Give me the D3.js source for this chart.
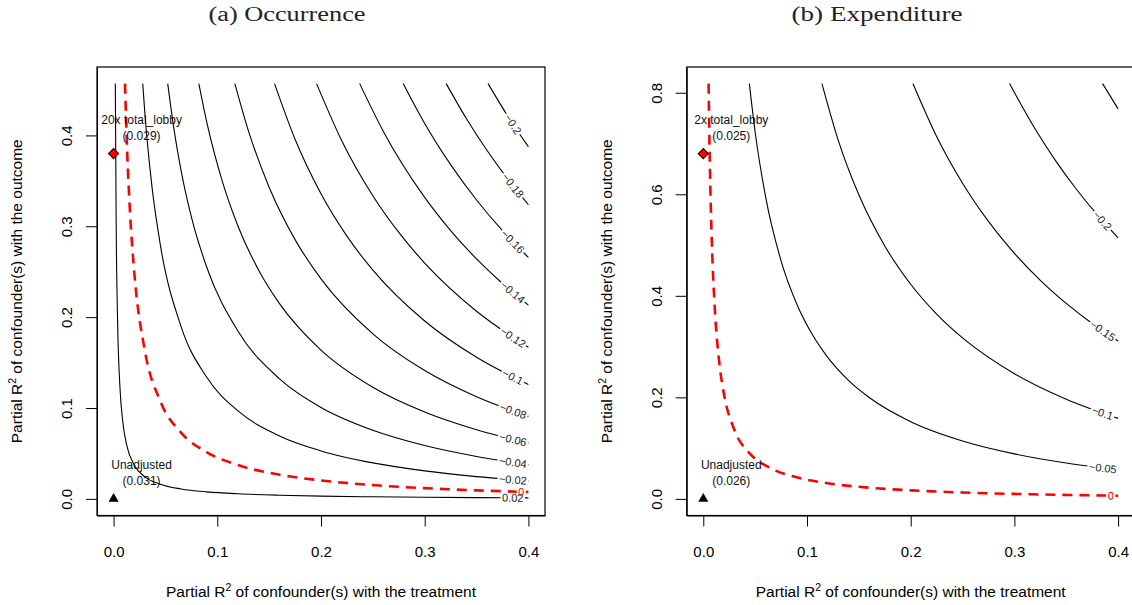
<!DOCTYPE html>
<html>
<head>
<meta charset="utf-8">
<script src="https://cdn.jsdelivr.net/npm/d3@7"></script>
<style>
  body { margin: 0; background: #fff; overflow: hidden; }
  text { font-family: "Liberation Sans", Arial, sans-serif; }
</style>
</head>
<body>
<script>
let W = 1132, H = 605;

// shared axis settings
let xLim = [0, 0.4];
let xTicks = [0, 0.1, 0.2, 0.3, 0.4];
let titles = ["(a) Occurrence", "(b) Expenditure"];

// panel (a) occurrence
let yLimA = [0, 0.457];
let yTicksA = [0, 0.1, 0.2, 0.3, 0.4];
let levelsA = [0.02, 0, -0.02, -0.04, -0.06, -0.08, -0.1, -0.12, -0.14, -0.16, -0.18, -0.2];
let contoursA = [
  [[0.00166,0.457],[0.0025,0.3024],[0.004,0.1887],[0.006,0.1256],[0.009,0.0835],[0.013,0.0575],[0.02,0.0371],[0.03,0.0245],[0.045,0.0161],[0.065,0.0109],[0.09,0.0077],[0.12,0.0056],[0.16,0.004],[0.2,0.003],[0.25,0.0023],[0.3,0.0018],[0.35,0.0014],[0.4,0.0011]],
  [[0.011,0.457],[0.013,0.3852],[0.016,0.3121],[0.02,0.2486],[0.03,0.164],[0.045,0.1077],[0.065,0.073],[0.09,0.0513],[0.12,0.0372],[0.16,0.0266],[0.2,0.0203],[0.25,0.0152],[0.3,0.0118],[0.35,0.0094],[0.4,0.0076]],
  [[0.0281,0.457],[0.03,0.4268],[0.037,0.3436],[0.045,0.2801],[0.065,0.1899],[0.09,0.1335],[0.12,0.0968],[0.16,0.0693],[0.2,0.0528],[0.25,0.0396],[0.3,0.0308],[0.35,0.0245],[0.4,0.0198]],
  [[0.0522,0.457],[0.058,0.4086],[0.065,0.3619],[0.075,0.3103],[0.09,0.2544],[0.12,0.1845],[0.16,0.1321],[0.2,0.1006],[0.25,0.0755],[0.3,0.0587],[0.35,0.0467],[0.4,0.0377]],
  [[0.0822,0.457],[0.09,0.4138],[0.105,0.3489],[0.12,0.3001],[0.14,0.2514],[0.16,0.2149],[0.2,0.1637],[0.25,0.1228],[0.3,0.0955],[0.35,0.076],[0.4,0.0614]],
  [[0.1169,0.457],[0.13,0.405],[0.15,0.343],[0.175,0.2853],[0.2,0.2421],[0.25,0.1816],[0.3,0.1412],[0.35,0.1124],[0.4,0.0908]],
  [[0.1552,0.457],[0.175,0.3957],[0.2,0.3357],[0.225,0.2891],[0.25,0.2518],[0.3,0.1958],[0.35,0.1559],[0.4,0.1259]],
  [[0.1957,0.457],[0.22,0.3942],[0.25,0.3336],[0.275,0.2932],[0.3,0.2595],[0.35,0.2065],[0.4,0.1668]],
  [[0.2373,0.457],[0.26,0.4047],[0.3,0.3318],[0.325,0.2953],[0.35,0.2641],[0.375,0.237],[0.4,0.2133]],
  [[0.2793,0.457],[0.3,0.4132],[0.325,0.3678],[0.35,0.3289],[0.375,0.2952],[0.4,0.2657]],
  [[0.3207,0.457],[0.34,0.4189],[0.36,0.3836],[0.38,0.3521],[0.4,0.3237]],
  [[0.3611,0.457],[0.38,0.4214],[0.4,0.3875]]
];

// panel (b) expenditure
let yLimB = [0, 0.818];
let yTicksB = [0, 0.2, 0.4, 0.6, 0.8];
let levelsB = [0, -0.05, -0.1, -0.15, -0.2, -0.25];
let contoursB = [
  [[0.0051,0.818],[0.006,0.6958],[0.0075,0.5558],[0.009,0.4625],[0.011,0.3776],[0.013,0.3189],[0.016,0.2583],[0.02,0.2058],[0.03,0.1358],[0.045,0.0891],[0.065,0.0604],[0.09,0.0425],[0.12,0.0308],[0.16,0.0221],[0.2,0.0168],[0.25,0.0126],[0.3,0.0098],[0.35,0.0078],[0.4,0.0063]],
  [[0.0444,0.818],[0.05,0.7226],[0.06,0.5958],[0.075,0.469],[0.09,0.3845],[0.105,0.3242],[0.12,0.2789],[0.14,0.2336],[0.16,0.1997],[0.2,0.1521],[0.25,0.1141],[0.3,0.0887],[0.35,0.0706],[0.4,0.057]],
  [[0.1144,0.818],[0.13,0.7073],[0.15,0.599],[0.175,0.4983],[0.2,0.4228],[0.225,0.3641],[0.25,0.3171],[0.3,0.2466],[0.35,0.1963],[0.4,0.1586]],
  [[0.2022,0.818],[0.225,0.714],[0.25,0.6219],[0.275,0.5465],[0.3,0.4837],[0.325,0.4305],[0.35,0.385],[0.375,0.3455],[0.4,0.311]],
  [[0.2953,0.818],[0.32,0.7285],[0.34,0.6654],[0.36,0.6094],[0.38,0.5593],[0.4,0.5142]],
  [[0.385,0.818],[0.4,0.7682]]
];

// benchmark and unadjusted points
let benchLabels = ["20x total_lobby", "2x total_lobby"];
let benchEst = ["(0.029)", "(0.025)"];
let benchX = [0, 0];
let benchY = [0.38, 0.68];
let unadjEst = ["(0.031)", "(0.026)"];

let svg = d3.select("body").append("svg")
    .attr("width", W)
    .attr("height", H)

let boxTop = 67, boxBottom = 515.5;

drawPanel(0, 97, 545, yLimA, yTicksA, levelsA, contoursA, 287, 157)
drawPanel(1, 686.7, 1134.7, yLimB, yTicksB, levelsB, contoursB, 877, 171)

function drawPanel(i, left, right, yLim, yTicks, levels, contours, titleX, titleW){
    let padX = (xLim[1] - xLim[0]) * 0.04
    let padY = (yLim[1] - yLim[0]) * 0.04
    let x = d3.scaleLinear()
                .domain([xLim[0] - padX, xLim[1] + padX])
                .range([left, right])
    let y = d3.scaleLinear()
                .domain([yLim[0] - padY, yLim[1] + padY])
                .range([boxBottom, boxTop])

    // title
    svg.append("text")
        .attr("x", titleX)
        .attr("y", 21)
        .attr("text-anchor", "middle")
        .attr("textLength", titleW)
        .attr("lengthAdjust", "spacingAndGlyphs")
        .style("font-family", "'Liberation Serif', 'DejaVu Serif', serif")
        .style("font-size", "20px")
        .attr("fill", "#222")
        .text(titles[i])

    // axes
    let xAxis = svg.append("g")
        .attr("transform", "translate(0," + boxBottom + ")")
        .call(d3.axisBottom(x).tickValues(xTicks).tickFormat(d3.format(".1f")).tickSize(11).tickSizeOuter(0))
    xAxis.selectAll("text")
        .attr("y", 41)
        .attr("dy", 0)
        .style("font-size", "15px")
        .attr("fill", "#000")

    let yAxis = svg.append("g")
        .attr("transform", "translate(" + left + ",0)")
        .call(d3.axisLeft(y).tickValues(yTicks).tickFormat(d3.format(".1f")).tickSize(11).tickSizeOuter(0))
    yAxis.selectAll("text")
        .attr("x", 0)
        .attr("y", -25)
        .attr("dy", 0)
        .attr("transform", "rotate(-90)")
        .attr("text-anchor", "middle")
        .style("font-size", "15px")
        .attr("fill", "#000")
    svg.selectAll(".domain").attr("stroke", "#000")

    // box
    svg.append("rect")
        .attr("x", left)
        .attr("y", boxTop)
        .attr("width", right - left)
        .attr("height", boxBottom - boxTop)
        .attr("fill", "none")
        .attr("stroke", "#000")
        .attr("stroke-width", 1.2)

    // axis titles
    let cx = (left + right) / 2
    axisTitle(svg.append("text")
        .attr("x", cx)
        .attr("y", 597)
        .attr("text-anchor", "middle"), "treatment")
    axisTitle(svg.append("text")
        .attr("transform", "translate(" + (left - 75) + "," + ((boxTop + boxBottom) / 2) + ") rotate(-90)")
        .attr("text-anchor", "middle"), "outcome")

    // contours
    let line = d3.line()
        .x(d => x(d[0]))
        .y(d => y(d[1]))
        .curve(d3.curveMonotoneX)

    let defs = svg.append("defs")

    contours.forEach(function(pts, k){
        let isZero = levels[k] === 0
        let col = isZero ? "#ff0000" : "#000"
        let maskId = "m" + i + "_" + k
        let path = svg.append("path")
            .attr("d", line(pts))
            .attr("fill", "none")
            .attr("stroke", col)
            .attr("stroke-width", isZero ? 2.6 : 1.1)
            .attr("stroke-dasharray", isZero ? "10,7" : null)

        let node = path.node()
        let len = node.getTotalLength()
        if (len < 50) return

        // find label spot near right end
        let target = x(isZero ? 0.393 : 0.385)
        let best = 0, bestD = 1e9
        for (let l = 0; l <= len; l += 0.5) {
            let p = node.getPointAtLength(l)
            let dd = Math.abs(p.x - target)
            if (dd < bestD) { bestD = dd; best = l }
        }
        let p = node.getPointAtLength(best)
        let p0 = node.getPointAtLength(Math.max(0, best - 3))
        let p1 = node.getPointAtLength(Math.min(len, best + 3))
        let ang = Math.atan2(p1.y - p0.y, p1.x - p0.x) * 180 / Math.PI

        let lab = svg.append("text")
            .attr("transform", "translate(" + p.x + "," + p.y + ") rotate(" + ang + ")")
            .attr("text-anchor", "middle")
            .attr("dy", "0.35em")
            .style("font-size", "11px")
            .attr("fill", isZero ? "#ff0000" : "#222")
            .text(String(levels[k]).replace("-", "\u2212"))
        let bw = lab.node().getBBox().width + 3

        let mask = defs.append("mask")
            .attr("id", maskId)
            .attr("maskUnits", "userSpaceOnUse")
            .attr("x", 0).attr("y", 0).attr("width", W).attr("height", H)
        mask.append("rect")
            .attr("x", 0).attr("y", 0).attr("width", W).attr("height", H)
            .attr("fill", "#fff")
        mask.append("rect")
            .attr("x", -bw / 2).attr("y", -6)
            .attr("width", bw).attr("height", 12)
            .attr("transform", "translate(" + p.x + "," + p.y + ") rotate(" + ang + ")")
            .attr("fill", "#000")
        path.attr("mask", "url(#" + maskId + ")")
    })

    // unadjusted point
    let ux = x(0), uy = y(0)
    svg.append("path")
        .attr("d", d3.symbol().type(d3.symbolTriangle).size(44)())
        .attr("transform", "translate(" + ux + "," + uy + ")")
        .attr("fill", "#000")
    pointLabel(ux, uy, "Unadjusted", unadjEst[i])

    // benchmark point
    let bx = x(benchX[i]), by = y(benchY[i])
    svg.append("path")
        .attr("d", d3.symbol().type(d3.symbolSquare).size(52)())
        .attr("transform", "translate(" + bx + "," + by + ") rotate(45)")
        .attr("fill", "#ff0000")
        .attr("stroke", "#000")
        .attr("stroke-width", 1)
    pointLabel(bx, by, benchLabels[i], benchEst[i])
}

function pointLabel(px, py, line1, line2){
    let t = svg.append("text")
        .attr("text-anchor", "middle")
        .style("font-size", "12px")
        .attr("fill", "#111")
    t.append("tspan").attr("x", px + 28).attr("y", py - 30).text(line1)
    t.append("tspan").attr("x", px + 28).attr("y", py - 14).text(line2)
}

function axisTitle(sel, what){
    sel.style("font-size", "15.5px").attr("fill", "#000")
    sel.append("tspan").text("Partial R")
    sel.append("tspan").attr("dy", -6).style("font-size", "10.5px").text("2")
    sel.append("tspan").attr("dy", 6).text(" of confounder(s) with the " + what)
}
</script>
</body>
</html>
